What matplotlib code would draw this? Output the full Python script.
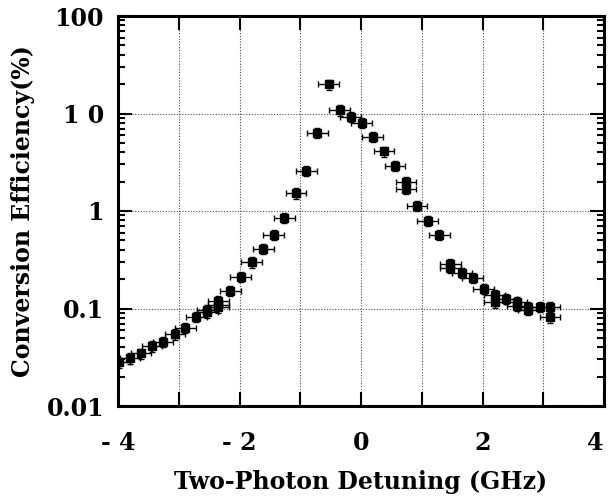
import matplotlib
matplotlib.use("Agg")
import matplotlib.pyplot as plt
from matplotlib.ticker import FixedLocator, FixedFormatter, LogLocator, NullFormatter

# detuning (GHz) and conversion efficiency (%)
detuning = [-3.98, -3.80, -3.62, -3.44, -3.26, -3.06, -2.89, -2.71, -2.53, -2.53,
            -2.35, -2.35, -2.35, -2.15, -1.98, -1.80, -1.61, -1.44, -1.26, -1.07,
            -0.90, -0.72, -0.53, -0.35, -0.17, 0.01, 0.19, 0.38, 0.56, 0.74,
            0.74, 0.92, 1.10, 1.29, 1.47, 1.47, 1.66, 1.84, 2.02, 2.20,
            2.20, 2.39, 2.57, 2.57, 2.75, 2.75, 2.94, 3.11, 3.11]
efficiency = [0.028, 0.031, 0.0346, 0.041, 0.0455, 0.0546, 0.0633, 0.082, 0.091, 0.097,
              0.119, 0.109, 0.103, 0.151, 0.212, 0.298, 0.412, 0.571, 0.855, 1.52,
              2.59, 6.36, 19.9, 10.8, 9.27, 8.05, 5.73, 4.09, 2.92, 1.99,
              1.69, 1.13, 0.791, 0.568, 0.285, 0.263, 0.233, 0.206, 0.160, 0.138,
              0.116, 0.126, 0.116, 0.106, 0.104, 0.097, 0.104, 0.104, 0.081]
x_err = 0.17      # GHz, half width of horizontal bars
rel_err = 0.12    # relative vertical error

x_labels = ["- 4", "", "- 2", "", "0", "", "2", "", "4"]
y_ticks = [0.01, 0.1, 1, 10, 100]
y_labels = ["0.01", "0.1", "1", "1 0", "100"]

font = "DejaVu Serif"
fig = plt.figure(figsize=(6.08, 5.0), dpi=100)
ax = fig.add_axes([118 / 608, 1 - 406 / 500, 486 / 608, 390 / 500])

yerr = [v * rel_err for v in efficiency]
ax.errorbar(detuning, efficiency, xerr=x_err, yerr=yerr, fmt="s", color="black",
            ms=5.5, elinewidth=1.0, capsize=2.5, capthick=1.0, zorder=3)

ax.set_yscale("log")
ax.set_xlim(-4, 4)
ax.set_ylim(0.01, 100)

# grid lines at every integer GHz and inner decades
for gx in [-3, -2, -1, 0, 1, 2, 3]:
    ax.axvline(gx, color="0.3", lw=0.8, ls=(0, (1, 1.5)), zorder=1)
for gy in [0.1, 1, 10]:
    ax.axhline(gy, color="0.3", lw=0.8, ls=(0, (1, 1.5)), zorder=1)

ax.xaxis.set_major_locator(FixedLocator(range(-4, 5)))
ax.xaxis.set_major_formatter(FixedFormatter(x_labels))
ax.yaxis.set_major_locator(FixedLocator(y_ticks))
ax.yaxis.set_major_formatter(FixedFormatter(y_labels))
ax.yaxis.set_minor_locator(LogLocator(base=10, subs=range(2, 10)))
ax.yaxis.set_minor_formatter(NullFormatter())

ax.tick_params(which="both", direction="in", top=True, right=True, width=1.5)
ax.tick_params(which="major", length=10, pad=10)
ax.tick_params(axis="x", which="major", pad=18)
ax.tick_params(which="minor", length=5)
for lab in ax.get_xticklabels() + ax.get_yticklabels():
    lab.set_fontfamily(font)
    lab.set_fontweight("bold")
    lab.set_fontsize(17)
ax.get_xticklabels()[-1].set_horizontalalignment("right")
for sp in ax.spines.values():
    sp.set_linewidth(2.2)

ax.set_xlabel("Two-Photon Detuning (GHz)", fontfamily=font, fontweight="bold",
              fontsize=17, labelpad=11)
ax.set_ylabel("Conversion Efficiency(%)", fontfamily=font, fontweight="bold",
              fontsize=17, labelpad=8)

fig.savefig("out.png", dpi=100)
